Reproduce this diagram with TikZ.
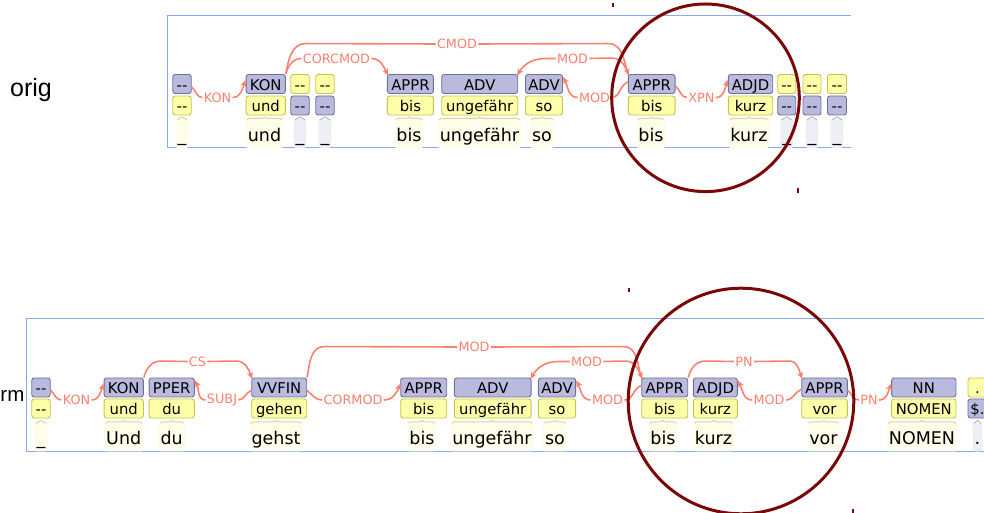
\documentclass[tikz,border=0pt]{standalone}
\usepackage{fontspec}
\setmainfont{DejaVu Sans}
\newfontfamily\sidefont{Liberation Sans}
\usetikzlibrary{arrows.meta,calc,decorations.pathreplacing}
\definecolor{posfill}{RGB}{186,186,222}
\definecolor{posdraw}{RGB}{112,112,150}
\definecolor{lemfill}{RGB}{255,255,170}
\definecolor{lemdraw}{RGB}{196,196,80}
\definecolor{wbgY}{RGB}{253,253,234}
\definecolor{wbgP}{RGB}{238,238,245}
\definecolor{brcY}{RGB}{214,214,140}
\definecolor{brcP}{RGB}{176,176,204}
\definecolor{arccol}{RGB}{250,128,114}
\definecolor{framecol}{RGB}{140,168,238}
\definecolor{ringcol}{RGB}{122,8,8}
\begin{document}
\begin{tikzpicture}[x=1pt,y=1pt,
  tbox/.style={rectangle,rounded corners=2.5pt,line width=0.9pt,inner sep=0pt,minimum height=19pt,text height=15.7pt,text depth=3.3pt,font=\fontsize{14.8}{16}\selectfont},
  posbox/.style={tbox,fill=posfill,draw=posdraw},
  lembox/.style={tbox,fill=lemfill,draw=lemdraw},
  word/.style={rectangle,rounded corners=2pt,inner xsep=2pt,inner ysep=3.4pt,text height=19pt,text depth=3pt,font=\fontsize{17.5}{20}\selectfont},
  wordY/.style={word,fill=wbgY},
  wordP/.style={word,fill=wbgP},
  brcY/.style={draw=brcY,line width=0.9pt,decorate,decoration={brace,amplitude=3pt}},
  brcP/.style={draw=brcP,line width=0.9pt,decorate,decoration={brace,amplitude=3pt}},
  rel/.style={text=arccol,font=\fontsize{12.8}{14}\selectfont,inner sep=1.2pt},
  link/.style={draw=arccol,line width=1.6pt},
  linkarr/.style={link,-{Stealth[length=7pt,width=6pt]}},
  framel/.style={draw=framecol,line width=0.9pt},
  ring/.style={draw=ringcol,line width=3pt},
  tick/.style={draw=ringcol,line width=1.2pt},
  side/.style={font=\sidefont\fontsize{25}{28}\selectfont,inner sep=0pt}
]
\useasboundingbox (0,0) rectangle (984,513);
\clip (0,0) rectangle (984,513);

% frames
\draw[framel] (851,498) -- (167,498) -- (167,365.5) -- (851,365.5);
\draw[framel] (990,195) -- (26,195) -- (26,62) -- (990,62);

\node[side,anchor=base west] (orig) at (10,416.5) {orig};
\node[side,anchor=base west,font=\sidefont\fontsize{20.5}{24}\selectfont] (norm) at (0.3,111) {rm};

% ---------- top panel ----------
\node[posbox,minimum width=18.5] (t1p) at (182,429) {-{}-};
\node[lembox,minimum width=18.5] (t1l) at (182,407.5) {-{}-};
\node[wordY] (t1w) at (182,379.5) {\_};

\node[posbox,minimum width=39.3] (t2p) at (265.7,429) {KON};
\node[lembox,minimum width=39.3] (t2l) at (265.7,407.5) {und};
\node[wordY] (t2w) at (264.5,379.5) {und};

\node[lembox,minimum width=18.5] (t3l) at (300,429) {-{}-};
\node[posbox,minimum width=18.5] (t3p) at (300,407.5) {-{}-};
\node[wordP] (t3w) at (300,379.5) {\_};

\node[lembox,minimum width=18.5] (t4l) at (325,429) {-{}-};
\node[posbox,minimum width=18.5] (t4p) at (325,407.5) {-{}-};
\node[wordP] (t4w) at (325,379.5) {\_};

\node[posbox,minimum width=46] (t5p) at (410.4,429) {APPR};
\node[lembox,minimum width=46] (t5l) at (410.4,407.5) {bis};
\node[wordY] (t5w) at (409,379.5) {bis};

\node[posbox,minimum width=76] (t6p) at (479.7,429) {ADV};
\node[lembox,minimum width=76] (t6l) at (479.7,407.5) {ungefähr};
\node[wordY] (t6w) at (479.5,379.5) {ungefähr};

\node[posbox,minimum width=37] (t7p) at (544,429) {ADV};
\node[lembox,minimum width=37] (t7l) at (544,407.5) {so};
\node[wordY] (t7w) at (542,379.5) {so};

\node[posbox,minimum width=46.7] (t8p) at (651.7,429) {APPR};
\node[lembox,minimum width=46.7] (t8l) at (651.7,407.5) {bis};
\node[wordY] (t8w) at (651,379.5) {bis};

\node[posbox,minimum width=44.4] (t9p) at (750.5,429) {ADJD};
\node[lembox,minimum width=44.4] (t9l) at (750.5,407.5) {kurz};
\node[wordY] (t9w) at (749,379.5) {kurz};

\node[lembox,minimum width=18] (t10l) at (786.7,429) {-{}-};
\node[posbox,minimum width=18] (t10p) at (786.7,407.5) {-{}-};
\node[wordP] (t10w) at (786.7,379.5) {\_};

\node[lembox,minimum width=18] (t11l) at (812,429) {-{}-};
\node[posbox,minimum width=18] (t11p) at (812,407.5) {-{}-};
\node[wordP] (t11w) at (812,379.5) {\_};

\node[lembox,minimum width=19] (t12l) at (837,429) {-{}-};
\node[posbox,minimum width=19] (t12p) at (837,407.5) {-{}-};
\node[wordP] (t12w) at (837,379.5) {\_};

% top labels
\node[rel] (tKON) at (217.5,415.5) {KON};
\node[rel] (tCORCMOD) at (336.5,454.5) {CORCMOD};
\node[rel] (tCMOD) at (457,469) {CMOD};
\node[rel] (tMODa) at (572.5,454.5) {MOD};
\node[rel] (tMODb) at (594.5,415.5) {MOD};
\node[rel] (tXPN) at (701.5,415.5) {XPN};

% top arcs
\draw[link] ($(t1p.east)+(0,-3)$) to[out=-40,in=180] (tKON.west);
\draw[linkarr] (tKON.east) to[out=0,in=-110] ($(t2p.west)+(0,4)$);
\draw[link] (t2p.north east) to[out=75,in=180] (tCORCMOD.west);
\draw[linkarr] (tCORCMOD.east) to[out=0,in=115] ($(t5p.north west)+(1,-1.5)$);
\draw[link] (t2p.north east) to[out=80,in=180] ++(20,30.5) -- (tCMOD.west);
\draw[linkarr] (tCMOD.east) -- ($(t8p.north west)+(-20,30.5)$) to[out=0,in=110] ($(t8p.north west)+(1,-1.5)$);
\draw[link] ($(t8p.north west)+(1,-1.5)$) to[out=110,in=0] ++(-17,17.5) -- (tMODa.east);
\draw[linkarr] (tMODa.west) -- ++(-10,0) to[out=180,in=60] ($(t6p.north east)+(-1,-1.5)$);
\draw[link] ($(t8p.west)+(0,2)$) to[out=200,in=0] (tMODb.east);
\draw[linkarr] (tMODb.west) to[out=180,in=-60] ($(t7p.north east)+(0,-3)$);
\draw[link] ($(t8p.east)+(0,-2)$) to[out=-40,in=180] (tXPN.west);
\draw[linkarr] (tXPN.east) to[out=0,in=-110] ($(t9p.west)+(0,4)$);

% ---------- bottom panel ----------
\node[posbox,minimum width=18.5] (b1p) at (41,125.5) {-{}-};
\node[lembox,minimum width=18.5] (b1l) at (41,104.5) {-{}-};
\node[wordY] (b1w) at (41,76) {\_};

\node[posbox,minimum width=39.3] (b2p) at (123.7,125.5) {KON};
\node[lembox,minimum width=39.3] (b2l) at (123.7,104.5) {und};
\node[wordY] (b2w) at (123.7,76) {Und};

\node[posbox,minimum width=45.3] (b3p) at (171.7,125.5) {PPER};
\node[lembox,minimum width=45.3] (b3l) at (171.7,104.5) {du};
\node[wordY] (b3w) at (171.7,76) {du};

\node[posbox,minimum width=55] (b4p) at (279.2,125.5) {VVFIN};
\node[lembox,minimum width=55] (b4l) at (279.2,104.5) {gehen};
\node[wordY] (b4w) at (276,76) {gehst};

\node[posbox,minimum width=46] (b5p) at (423.7,125.5) {APPR};
\node[lembox,minimum width=46] (b5l) at (423.7,104.5) {bis};
\node[wordY] (b5w) at (422,76) {bis};

\node[posbox,minimum width=76.7] (b6p) at (492.7,125.5) {ADV};
\node[lembox,minimum width=76.7] (b6l) at (492.7,104.5) {ungefähr};
\node[wordY] (b6w) at (492,76) {ungefähr};

\node[posbox,minimum width=37.3] (b7p) at (557,125.5) {ADV};
\node[lembox,minimum width=37.3] (b7l) at (557,104.5) {so};
\node[wordY] (b7w) at (555,76) {so};

\node[posbox,minimum width=46] (b8p) at (664.7,125.5) {APPR};
\node[lembox,minimum width=46] (b8l) at (664.7,104.5) {bis};
\node[wordY] (b8w) at (663,76) {bis};

\node[posbox,minimum width=44] (b9p) at (715.3,125.5) {ADJD};
\node[lembox,minimum width=44] (b9l) at (715.3,104.5) {kurz};
\node[wordY] (b9w) at (713.5,76) {kurz};

\node[posbox,minimum width=45.6] (b10p) at (824.5,125.5) {APPR};
\node[lembox,minimum width=45.6] (b10l) at (824.5,104.5) {vor};
\node[wordY] (b10w) at (823.5,76) {vor};

\node[posbox,minimum width=64.3] (b11p) at (923.8,125.5) {NN};
\node[lembox,minimum width=64.3] (b11l) at (923.8,104.5) {NOMEN};
\node[wordY] (b11w) at (922,76) {NOMEN};

\node[lembox,minimum width=19] (b12l) at (977.5,125.5) {.};
\node[posbox,minimum width=19] (b12p) at (977.5,104.5) {\$.};
\node[wordP] (b12w) at (977.5,76) {.};

% bottom labels
\node[rel] (bKON) at (76.5,113) {KON};
\node[rel] (bCS) at (197.5,151.5) {CS};
\node[rel] (bSUBJ) at (222,113) {SUBJ};
\node[rel] (bMODa) at (474,166) {MOD};
\node[rel] (bCORMOD) at (353,113) {CORMOD};
\node[rel] (bMODb) at (586.5,151.5) {MOD};
\node[rel] (bMODc) at (607.5,113) {MOD};
\node[rel] (bPN) at (744,151.5) {PN};
\node[rel] (bMODd) at (769,113) {MOD};
\node[rel] (bPNb) at (869,113) {PN};

% bottom arcs
\draw[link] ($(b1p.east)+(0,-3)$) to[out=-40,in=180] (bKON.west);
\draw[linkarr] (bKON.east) to[out=0,in=-110] ($(b2p.west)+(0,4)$);
\draw[link] (b2p.north east) to[out=75,in=180] ++(17,16.5) -- (bCS.west);
\draw[linkarr] (bCS.east) -- ($(b4p.north west)+(-15,16.5)$) to[out=0,in=110] ($(b4p.north west)+(1,-1.5)$);
\draw[link] ($(b4p.west)+(0,-3)$) to[out=200,in=0] (bSUBJ.east);
\draw[linkarr] (bSUBJ.west) to[out=180,in=-60] ($(b3p.north east)+(0,-3)$);
\draw[link] (b4p.north east) to[out=80,in=180] ++(17,31) -- (bMODa.west);
\draw[linkarr] (bMODa.east) -- ($(b8p.north west)+(-18,31)$) to[out=0,in=110] ($(b8p.north west)+(1,-1.5)$);
\draw[link] ($(b4p.east)+(0,-3)$) to[out=-40,in=180] (bCORMOD.west);
\draw[linkarr] (bCORMOD.east) to[out=0,in=-110] ($(b5p.west)+(0,4)$);
\draw[link] ($(b8p.north west)+(1,-1.5)$) to[out=110,in=0] ++(-17,18) -- (bMODb.east);
\draw[linkarr] (bMODb.west) -- ++(-12,0) to[out=180,in=60] ($(b6p.north east)+(-1,-1.5)$);
\draw[link] ($(b8p.west)+(0,2)$) to[out=200,in=0] (bMODc.east);
\draw[linkarr] (bMODc.west) to[out=180,in=-60] ($(b7p.north east)+(0,-3)$);
\draw[link] (b8p.north east) to[out=75,in=180] ++(17,16.5) -- (bPN.west);
\draw[linkarr] (bPN.east) -- ($(b10p.north west)+(-12,16.5)$) to[out=0,in=110] ($(b10p.north west)+(1,-1.5)$);
\draw[link] ($(b10p.west)+(0,-2)$) to[out=200,in=0] (bMODd.east);
\draw[linkarr] (bMODd.west) to[out=180,in=-60] ($(b9p.north east)+(0,-3)$);
\draw[link] ($(b10p.east)+(0,-3)$) to[out=-40,in=180] (bPNb.west);
\draw[linkarr] (bPNb.east) to[out=0,in=-110] ($(b11p.west)+(0,4)$);

% braces
\foreach \n in {t1w,t2w,t5w,t6w,t7w,t8w,t9w,b1w,b2w,b3w,b4w,b5w,b6w,b7w,b8w,b9w,b10w,b11w}
  \draw[brcY] ($(\n.north west)+(1.5,-1)$) -- ($(\n.north east)+(-1.5,-1)$);
\foreach \n in {t3w,t4w,t10w,t11w,t12w,b12w}
  \draw[brcP] ($(\n.north west)+(1.5,-1)$) -- ($(\n.north east)+(-1.5,-1)$);

% circles
\draw[ring] (705.5,415.2) circle[radius=93.8];
\draw[ring] (741,112) circle[radius=112.8];
\draw[tick] (613,510) -- (613,505.5);
\draw[tick] (798,325) -- (798,320);
\draw[tick] (629,225) -- (629,221);
\draw[tick] (853,4) -- (853,0);
\end{tikzpicture}
\end{document}
